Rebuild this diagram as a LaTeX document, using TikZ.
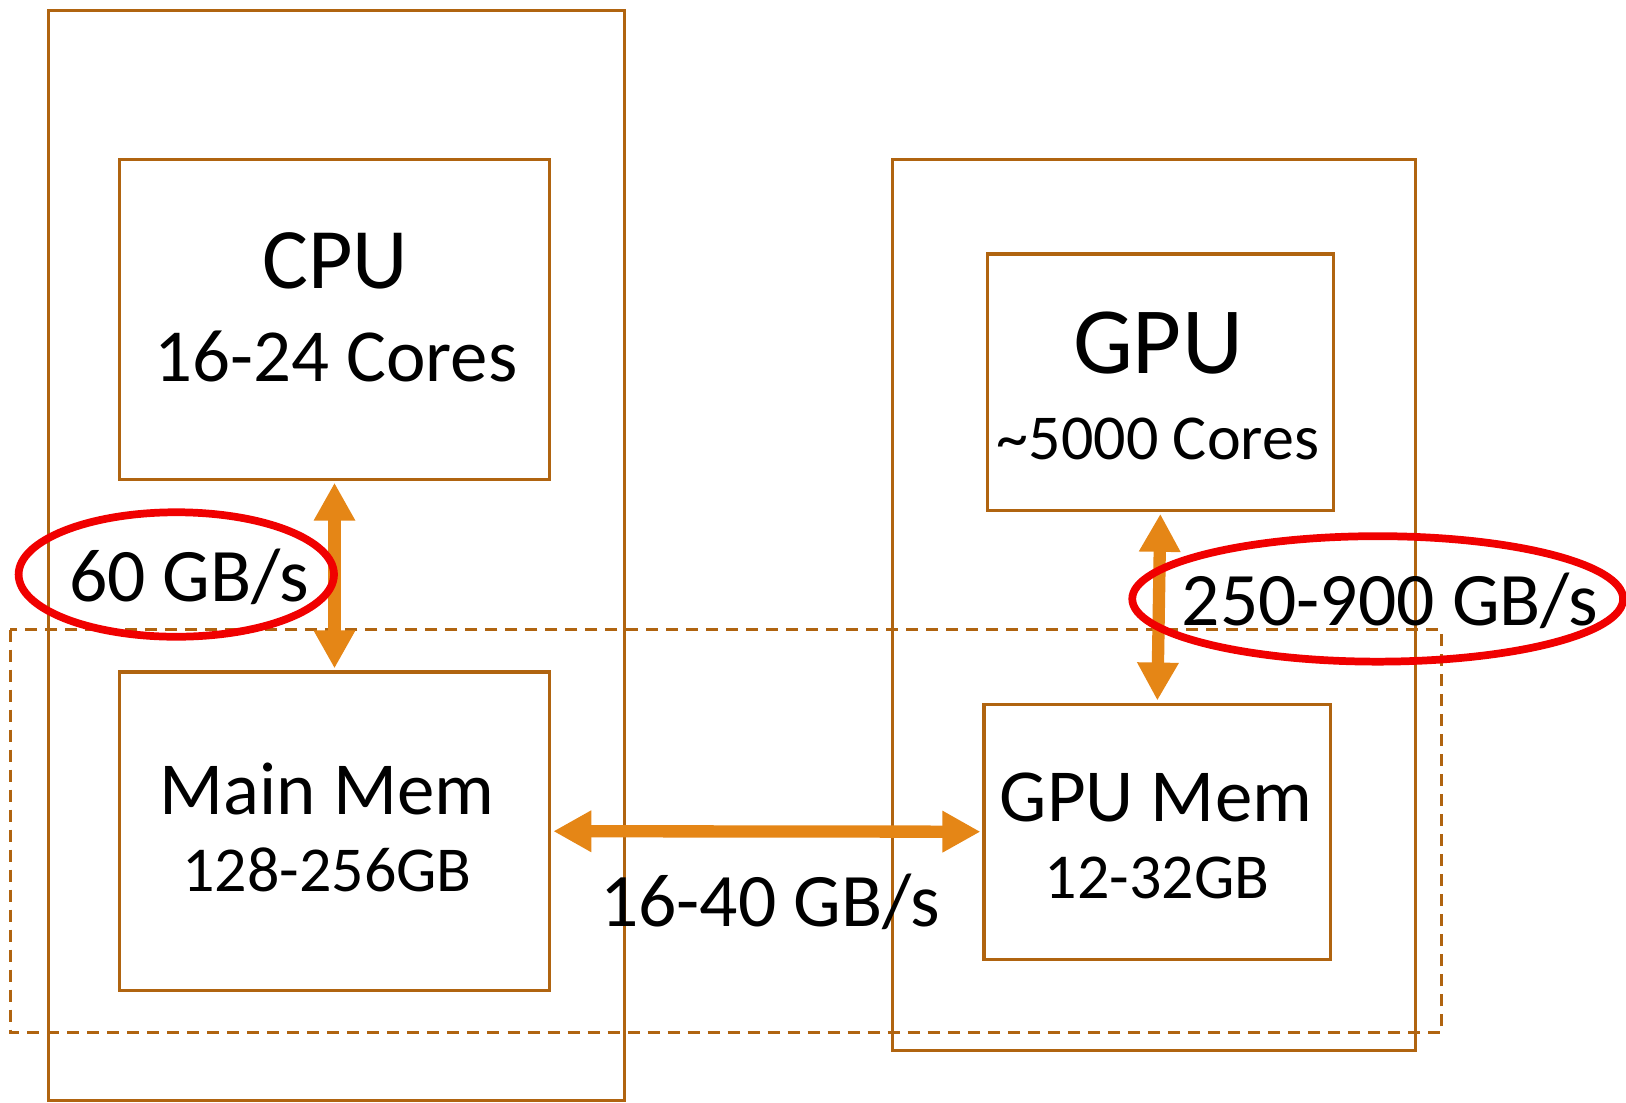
\documentclass[tikz,border=0pt]{standalone}
\usepackage{fontspec}
\setmainfont{Carlito}
\usepackage{tikz}
\usetikzlibrary{arrows.meta, positioning}
\definecolor{boxline}{RGB}{176,100,16}
\definecolor{busorange}{RGB}{229,134,22}
\definecolor{ringred}{RGB}{240,0,0}
\tikzset{
  unit/.style={rectangle, draw=boxline, line width=0.9pt,
    inner sep=0pt, outer sep=0pt},
  bus/.style={{Triangle[width=0.39cm,length=0.38cm]}-{Triangle[width=0.39cm,length=0.38cm]},
    line width=3.5pt, color=busorange, shorten <=1pt, shorten >=1pt},
  ring/.style={draw=ringred, line width=2.2pt},
  region/.style={draw=boxline, line width=0.9pt, dash pattern=on 0.12cm off 0.08cm}
}

\begin{document}
\begin{tikzpicture}[x=0.01cm, y=-0.01cm,
  lbl/.style={anchor=base, inner sep=0pt},
  title/.style={lbl, font=\fontsize{24.5pt}{28pt}\selectfont},
  sub/.style={lbl, font=\fontsize{21.3pt}{25pt}\selectfont},
  small/.style={lbl, font=\fontsize{18.2pt}{22pt}\selectfont},
  rate/.style={lbl, font=\fontsize{21.5pt}{25pt}\selectfont}]
\useasboundingbox (0,0) rectangle (1626,1102);
% host side
\node[unit, minimum width=5.756cm, minimum height=10.899cm] (host) at (336.5,555.4) {};
\node[unit, minimum width=4.303cm, minimum height=3.194cm] (cpu) at (334.5,319.4) {};
\node[unit, minimum width=4.303cm, minimum height=3.183cm] (mem) at (334.5,831.2) {};
% device side
\node[unit, minimum width=5.226cm, minimum height=8.908cm] (dev) at (1154.2,605.1) {};
\node[unit, minimum width=3.464cm, minimum height=2.562cm] (gpu) at (1160.4,382.1) {};
\node[unit, minimum width=3.464cm, minimum height=2.551cm] (gmem) at (1157.3,831.7) {};
% memory region
\draw[region] (10.4,629.5) rectangle (1441.4,1032.9);
% labels
\node[title] (cpulbl) at (335,288) {CPU};
\node[sub] (cpucores) at (336,381.6) {16-24 Cores};
\node[title, font=\fontsize{27pt}{31pt}\selectfont] (gpulbl) at (1158,373) {GPU};
\node[small] (gpucores) at (1158,459) {\textasciitilde5000 Cores};
\node[sub] (memlbl) at (327,814) {Main Mem};
\node[small] (memsize) at (327,891.8) {128-256GB};
\node[sub] (gmemlbl) at (1156,821) {GPU Mem};
\node[small] (gmemsize) at (1157,898) {12-32GB};
% buses
\draw[bus] (cpu.south) -- (mem.north);
\draw[bus] (gpu.south) -- (gmem.north);
\draw[bus] (mem.east) -- (gmem.west);
\node[rate] (pcie) at (770,926) {16-40 GB/s};
% bandwidth rings
\node[rate] (hostbw) at (189,601.5) {60 GB/s};
\node[rate] (devbw) at (1390,625) {250-900 GB/s};
\draw[ring] (176.3,574.5) ellipse [x radius=1.576cm, y radius=0.622cm];
\draw[ring] (1377.7,598.9) ellipse [x radius=2.453cm, y radius=0.627cm];
\end{tikzpicture}
\end{document}
